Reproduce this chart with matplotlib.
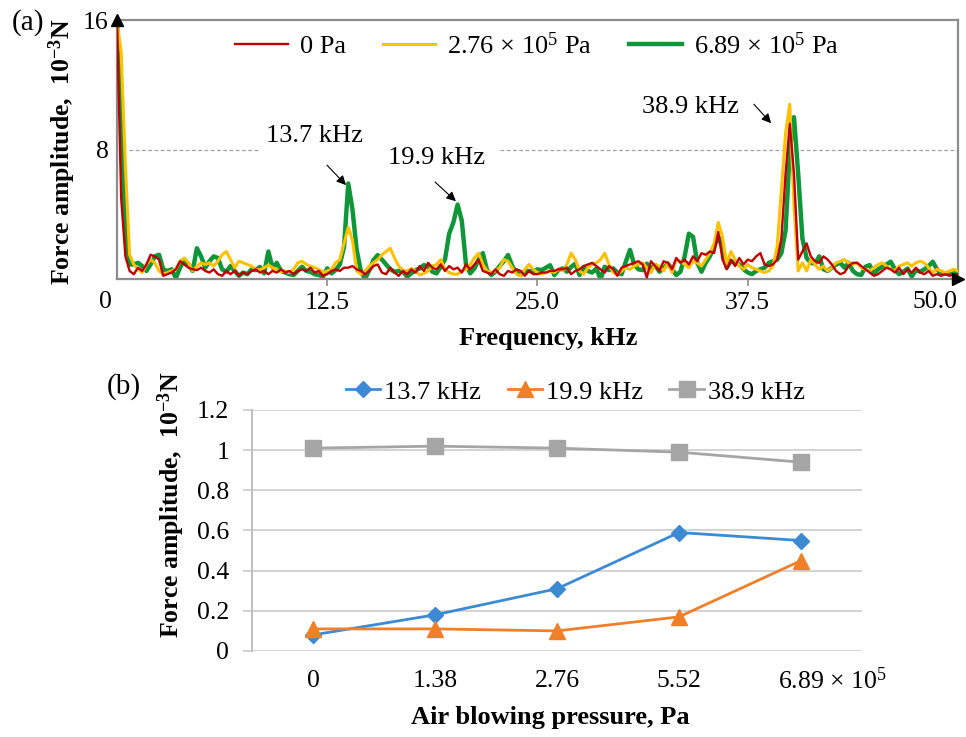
import numpy as np
import matplotlib
matplotlib.use('Agg')
import matplotlib.pyplot as plt

plt.rcParams['font.family'] = ['Liberation Serif', 'DejaVu Serif']
plt.rcParams['mathtext.fontset'] = 'custom'
plt.rcParams['mathtext.rm'] = 'Liberation Serif'
plt.rcParams['mathtext.bf'] = 'Liberation Serif:bold'
plt.rcParams['mathtext.it'] = 'Liberation Serif:italic'

# (a) force spectrum on a 0.25 kHz grid (10^-3 N)
freq_step = 0.25
amp_0pa = [
    16, 5.0, 1.4, 0.5, 0.3, 0.7, 0.5, 0.9, 1.5, 1.4, 1.2, 0.2, 0.3, 0.4, 0.6, 1.1, 0.9, 0.7, 0.6, 0.55,
    0.7, 0.5, 0.4, 0.6, 0.3, 0.2, 0.5, 0.3, 0.5, 0.2, 0.4, 0.3, 0.5, 0.6, 0.4, 0.5, 0.3, 0.5, 0.4, 0.6,
    0.4, 0.5, 0.3, 0.5, 0.6, 0.5, 0.7, 0.4, 0.5, 0.2, 0.3, 0.5, 0.6, 0.5, 0.7, 0.7, 0.8, 0.6, 0.5, 0.3,
    0.5, 0.8, 0.9, 0.4, 0.3, 0.7, 0.4, 0.2, 0.5, 0.3, 0.6, 0.4, 0.8, 0.5, 1.0, 0.7, 0.6, 0.9, 0.5, 0.8,
    0.6, 0.7, 0.4, 0.9, 0.6, 0.9, 1.2, 0.5, 0.4, 0.3, 0.6, 0.3, 0.2, 0.5, 0.4, 0.6, 0.5, 0.2, 0.5, 0.3,
    0.3, 0.4, 0.4, 0.5, 0.5, 0.6, 0.6, 0.7, 0.3, 0.5, 0.6, 0.8, 0.9, 1.0, 0.8, 0.6, 0.4, 0.8, 0.6, 0.2,
    0.7, 0.8, 0.9, 1.0, 1.1, 0.9, 0.1, 1.1, 0.8, 0.5, 1.1, 1.0, 0.6, 1.3, 1.0, 1.2, 0.9, 1.4, 1.1, 1.6,
    1.5, 1.7, 1.6, 2.9, 1.2, 0.6, 1.2, 0.8, 1.3, 0.9, 1.2, 1.1, 1.4, 1.6, 0.9, 0.8, 0.9, 1.2, 2.5, 6.5,
    9.6, 6.5, 1.2, 1.7, 2.2, 1.4, 1.1, 1.0, 1.4, 1.2, 0.9, 0.5, 0.3, 0.4, 0.8, 1.0, 1.0, 0.8, 0.6, 0.4,
    0.2, 0.3, 0.5, 0.7, 0.6, 0.4, 0.7, 0.3, 0.6, 0.4, 0.7, 0.4, 0.3, 0.5, 0.2, 0.3, 0.2, 0.3, 0.2, 0.3,
    0.3]
amp_276 = [
    16, 14, 7.0, 1.5, 0.9, 0.6, 0.4, 0.9, 1.2, 1.0, 0.5, 0.3, 0.4, 0.5, 0.6, 1.1, 1.3, 1.0, 0.5, 0.8,
    1.0, 0.9, 1.0, 0.8, 1.1, 1.5, 1.7, 1.2, 0.7, 1.1, 1.0, 0.9, 0.8, 0.6, 0.55, 0.7, 0.86, 0.7, 0.6, 0.45,
    0.5, 0.4, 0.6, 1.0, 1.1, 0.9, 0.8, 0.7, 0.6, 0.4, 0.5, 0.6, 1.0, 1.2, 2.2, 3.2, 2.4, 0.5, 0.3, 0.5,
    0.8, 1.0, 1.2, 1.5, 1.7, 1.9, 1.3, 0.8, 0.55, 0.5, 0.65, 0.5, 0.25, 0.35, 0.5, 0.8, 0.9, 1.2, 0.6, 0.4,
    0.3, 0.3, 0.5, 0.6, 0.9, 1.3, 1.6, 0.9, 0.5, 0.4, 0.5, 0.7, 1.2, 1.1, 0.7, 0.3, 0.2, 0.6, 0.9, 0.6,
    0.4, 0.3, 0.4, 0.5, 0.4, 0.6, 0.5, 0.9, 1.6, 1.2, 0.5, 0.3, 0.7, 0.9, 1.0, 1.2, 1.6, 0.9, 0.4, 0.3,
    0.5, 0.7, 0.6, 0.8, 0.9, 1.0, 0.7, 0.4, 0.9, 0.8, 0.5, 1.0, 0.4, 1.2, 1.1, 0.9, 0.7, 1.1, 1.0, 0.8,
    1.2, 1.6, 2.2, 3.5, 2.6, 0.9, 1.7, 1.2, 0.8, 0.6, 0.9, 0.7, 0.6, 0.5, 0.4, 0.5, 0.8, 2.0, 5.5, 9.0,
    10.8, 4.5, 0.5, 1.0, 0.5, 1.2, 0.9, 0.6, 0.8, 0.5, 0.7, 1.0, 1.1, 1.2, 1.0, 0.9, 1.0, 0.7, 0.6, 0.5,
    0.7, 0.9, 1.0, 0.8, 0.6, 0.5, 0.8, 0.9, 1.0, 0.8, 1.0, 1.1, 1.0, 0.7, 0.4, 0.6, 0.5, 0.4, 0.5, 0.6,
    0.5]
amp_689 = [
    16, 10, 3.0, 0.9, 0.9, 1.0, 0.8, 0.5, 0.9, 1.4, 1.5, 0.6, 0.5, 0.6, 0.05, 0.7, 1.2, 0.9, 0.5, 1.9,
    1.4, 0.7, 1.1, 1.4, 1.3, 0.6, 0.45, 0.8, 0.5, 0.2, 0.4, 0.3, 0.6, 0.55, 0.75, 0.35, 1.7, 0.7, 1.0, 0.5,
    0.4, 0.3, 0.25, 0.5, 0.76, 0.5, 0.45, 0.3, 0.25, 0.15, 0.66, 0.35, 0.55, 0.9, 2.0, 5.9, 4.3, 1.8, 0.5, 0.0,
    0.55, 1.17, 1.48, 1.2, 0.9, 0.6, 0.45, 0.5, 0.45, 0.15, 0.35, 0.55, 0.65, 0.86, 0.76, 0.45, 0.35, 0.76, 1.2, 2.8,
    3.5, 4.6, 3.6, 0.9, 0.35, 0.65, 1.2, 1.6, 0.55, 0.25, 0.45, 0.8, 1.1, 1.48, 0.8, 0.4, 0.25, 0.5, 0.5, 0.45,
    0.6, 0.55, 0.7, 0.85, 0.25, 0.55, 0.66, 0.45, 0.75, 0.95, 0.25, 0.75, 0.5, 0.4, 0.65, 0.0, 0.76, 0.55, 0.66, 0.4,
    0.3, 1.07, 1.8, 0.9, 0.6, 0.55, 0.95, 0.65, 0.86, 0.45, 0.66, 0.97, 0.6, 0.25, 0.45, 1.4, 2.8, 2.6, 1.0, 0.45,
    1.0, 1.4, 2.0, 2.6, 2.0, 0.7, 1.1, 1.0, 0.9, 0.6, 0.4, 0.3, 0.5, 0.6, 0.7, 1.0, 1.1, 1.2, 1.6, 3.0,
    8.0, 10.0, 6.5, 2.5, 1.3, 1.0, 0.95, 1.4, 0.6, 0.5, 0.7, 0.9, 1.0, 0.7, 1.0, 0.5, 0.3, 0.25, 0.76, 0.86,
    0.35, 0.6, 0.76, 0.9, 1.07, 0.6, 0.3, 0.45, 0.65, 0.15, 0.55, 0.45, 0.6, 0.8, 1.07, 0.6, 0.3, 0.35, 0.3, 0.35,
    0.4]
series_a = ['0 Pa', r'2.76 × 10$^5$ Pa', r'6.89 × 10$^5$ Pa']

# (b) peak amplitude vs air blowing pressure
pressure_labels = ['0', '1.38', '2.76', '5.52', r'6.89 × 10$^5$']
peak_names = ['13.7 kHz', '19.9 kHz', '38.9 kHz']
peak_137 = [0.08, 0.18, 0.31, 0.59, 0.55]
peak_199 = [0.11, 0.11, 0.10, 0.17, 0.45]
peak_389 = [1.01, 1.02, 1.01, 0.99, 0.94]

freq = np.arange(len(amp_0pa)) * freq_step

TICK_FS = 18.5
LABEL_FS = 18.5
LEG_FS = 19

fig = plt.figure(figsize=(9.66, 7.37), dpi=100)

# ---- panel (a)
ax1 = fig.add_axes([0.1211, 0.6214, 0.8706, 0.3514])
lg, = ax1.plot(freq, amp_689, color='#0E9638', lw=3.2, zorder=2)
ly, = ax1.plot(freq, amp_276, color='#FFC000', lw=2.2, zorder=3)
lr, = ax1.plot(freq, amp_0pa, color='#C00000', lw=1.7, zorder=4)
ax1.set_xlim(0, 50)
ax1.set_ylim(0, 16)
# dashed guide at 8, broken behind the call-out labels
ax1.hlines([8, 8], [0.7, 22.8], [8.4, 50], colors='#a0a0a0', linestyles=(0, (3, 2)), lw=0.9, zorder=1)

for s in ax1.spines.values():
    s.set_color('#8c8c8c')
    s.set_linewidth(1.6)
ax1.set_yticks([8, 16])
ax1.tick_params(axis='y', length=0, pad=6, labelsize=TICK_FS)
ax1.set_xticks([12.5, 25, 37.5])
ax1.set_xticklabels(['12.5', '25.0', '37.5'])
ax1.tick_params(axis='x', length=5, width=1.2, color='#8c8c8c', labelsize=TICK_FS, pad=4)
ax1.text(-0.0143, -0.089, '0', transform=ax1.transAxes, ha='center', va='center', fontsize=TICK_FS)
ax1.text(0.9727, -0.089, '50.0', transform=ax1.transAxes, ha='center', va='center', fontsize=TICK_FS)

# axis arrow heads
ax1.plot([0], [1], marker='^', color='black', ms=8, transform=ax1.transAxes, clip_on=False, zorder=6)
ax1.plot([1], [0], marker='>', color='black', ms=8, transform=ax1.transAxes, clip_on=False, zorder=6)

ax1.legend([lr, ly, lg], series_a, ncol=3, loc='center', bbox_to_anchor=(0.4994, 0.903),
           frameon=False, fontsize=LEG_FS, handlelength=2.0, handletextpad=0.45, columnspacing=1.4)

# peak call-outs
arrow = dict(arrowstyle='-|>', color='black', lw=0.8, mutation_scale=14)
ax1.text(11.77, 8.83, '13.7 kHz', ha='center', va='center', fontsize=LEG_FS)
ax1.annotate('', xy=(13.73, 5.68), xytext=(12.37, 7.16), arrowprops=arrow)
ax1.text(19.02, 7.47, '19.9 kHz', ha='center', va='center', fontsize=LEG_FS)
ax1.annotate('', xy=(20.27, 4.69), xytext=(18.79, 6.11), arrowprops=arrow)
ax1.text(34.07, 10.62, '38.9 kHz', ha='center', va='center', fontsize=LEG_FS)
ax1.annotate('', xy=(39.0, 9.5), xytext=(37.75, 10.93), arrowprops=arrow)

ax1.text(0.5125, -0.228, 'Frequency, kHz', transform=ax1.transAxes, ha='center', va='center',
         fontsize=LABEL_FS + 0.5, fontweight='bold')
ax1.text(-0.0654, 0.49, r'Force amplitude,  10$^{\mathbf{-3}}$N', transform=ax1.transAxes,
         rotation=90, ha='center', va='center', fontsize=LABEL_FS, fontweight='bold')

# ---- panel (b)
ax2 = fig.add_axes([0.2609, 0.1167, 0.6315, 0.327])
x = np.arange(len(pressure_labels))
ax2.plot(x, peak_137, color='#3C8AD4', lw=2.0, marker='D', ms=8, label=peak_names[0])
ax2.plot(x, peak_199, color='#F07F2A', lw=2.0, marker='^', ms=11, label=peak_names[1])
ax2.plot(x, peak_389, color='#A5A5A5', lw=2.0, marker='s', ms=11, label=peak_names[2])
ax2.set_xlim(-0.5, 4.5)
ax2.set_ylim(0, 1.2)
ax2.set_yticks([0, 0.2, 0.4, 0.6, 0.8, 1.0, 1.2])
ax2.set_yticklabels(['0', '0.2', '0.4', '0.6', '0.8', '1', '1.2'])
ax2.grid(axis='y', color='#d0d0d0', lw=1.3)
ax2.set_axisbelow(True)
for name in ['top', 'right', 'bottom']:
    ax2.spines[name].set_visible(False)
ax2.spines['left'].set_color('#c0c0c0')
ax2.spines['left'].set_linewidth(1.5)
ax2.tick_params(axis='y', length=6.5, width=1.3, color='#d0d0d0', labelsize=TICK_FS, pad=10)
ax2.set_xticks(x)
ax2.set_xticklabels(pressure_labels[:-1] + [''])
ax2.tick_params(axis='x', length=0, labelsize=TICK_FS, pad=14)
ax2.annotate(pressure_labels[-1], xy=(x[-1], 0), xycoords=('data', 'axes fraction'),
             xytext=(-23, -30), textcoords='offset pixels', ha='left', va='center', fontsize=TICK_FS)

ax2.legend(ncol=3, loc='center', bbox_to_anchor=(0.53, 1.075), frameon=False, fontsize=LEG_FS,
           handlelength=1.3, handletextpad=0.15, columnspacing=1.0)

ax2.text(0.489, -0.278, 'Air blowing pressure, Pa', transform=ax2.transAxes, ha='center',
         va='center', fontsize=LABEL_FS + 0.5, fontweight='bold')
ax2.text(-0.133, 0.606, r'Force amplitude,  10$^{\mathbf{-3}}$N', transform=ax2.transAxes,
         rotation=90, ha='center', va='center', fontsize=LABEL_FS, fontweight='bold')

fig.text(28 / 966, 1 - 23 / 737, '(a)', ha='center', va='center', fontsize=21)
fig.text(124 / 966, 1 - 387 / 737, '(b)', ha='center', va='center', fontsize=21)

fig.savefig('out.png', dpi=100)
